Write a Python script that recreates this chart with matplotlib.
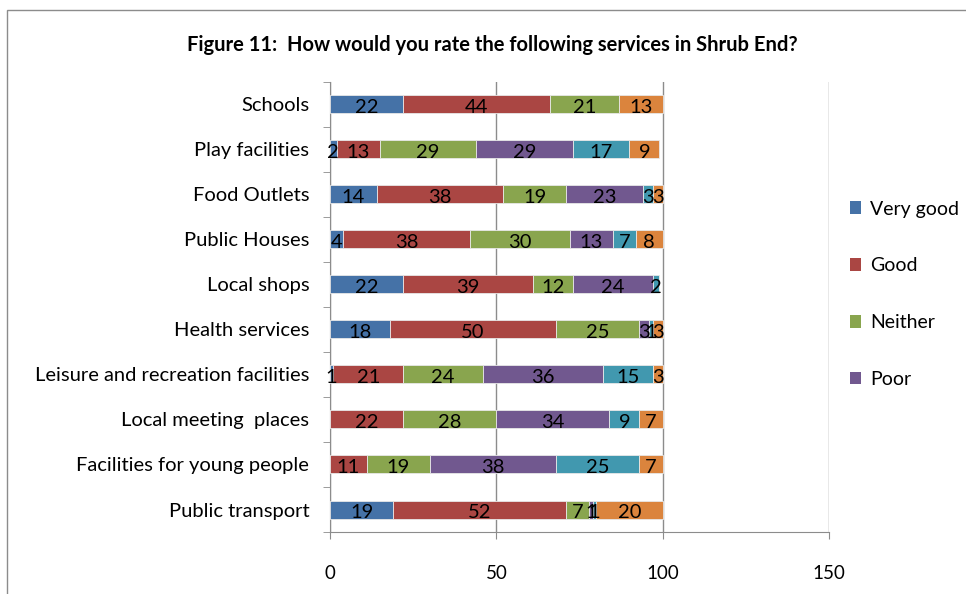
import numpy as np
import matplotlib.pyplot as plt
from matplotlib.patches import Rectangle, Patch

plt.rcParams['font.family'] = ['Lato', 'DejaVu Sans']

# Survey results (%), top to bottom
services = ['Schools', 'Play facilities', 'Food Outlets', 'Public Houses', 'Local shops',
            'Health services', 'Leisure and recreation facilities', 'Local meeting  places',
            'Facilities for young people', 'Public transport']
very_good = [22, 2, 14, 4, 22, 18, 1, 0, 0, 19]
good = [44, 13, 38, 38, 39, 50, 21, 22, 11, 52]
neither = [21, 29, 19, 30, 12, 25, 24, 28, 19, 7]
poor = [0, 29, 23, 13, 24, 3, 36, 34, 38, 1]
very_poor = [0, 17, 3, 7, 2, 1, 15, 9, 25, 1]
dont_know = [13, 9, 3, 8, 0, 3, 3, 7, 7, 20]

series = [('Very good', very_good, '#4572A7'),
          ('Good', good, '#AA4643'),
          ('Neither', neither, '#89A54E'),
          ('Poor', poor, '#71588F'),
          ('Very poor', very_poor, '#4198AF'),
          ("Don't know", dont_know, '#DB843D')]

fig = plt.figure(figsize=(9.66, 5.94), dpi=100)
ax = fig.add_axes([330 / 966, (594 - 532) / 594, 499 / 966, 450 / 594])

# outer chart border (runs off the right and bottom edge)
fig.patches.append(Rectangle((7 / 966, -0.1), 1.2, (584 / 594) + 0.1, transform=fig.transFigure,
                             fill=False, edgecolor='#8c8c8c', linewidth=1.0))

y = np.arange(len(services))
left = np.zeros(len(services))
for name, vals, col in series:
    vals = np.array(vals, dtype=float)
    ax.barh(y, vals, left=left, height=0.4, color=col, edgecolor='#e8e8e8', linewidth=0.6,
            label=name, zorder=3)
    for yi, (l, v) in enumerate(zip(left, vals)):
        if v > 0:
            ax.text(l + v / 2, yi + 0.07, f'{int(v)}', ha='center', va='center',
                    fontsize=14.5, color='black', zorder=4)
    left += vals

ax.set_ylim(len(services) - 0.5, -0.5)
ax.set_xlim(0, 150)
ax.set_xticks([0, 50, 100, 150])
ax.set_xticklabels(['0', '50', '100', '150'], fontsize=13.5)
ax.set_yticks(y)
ax.set_yticklabels(services, fontsize=14.5)
ax.set_yticks(np.arange(-0.5, len(services) + 0.5, 1), minor=True)
ax.tick_params(axis='y', which='major', length=0, pad=15)
ax.tick_params(axis='y', which='minor', length=5, color='#8c8c8c')
ax.tick_params(axis='x', length=5, color='#8c8c8c', pad=19)
ax.grid(axis='x', color='#8c8c8c', linewidth=1.0, zorder=0)
for s in ['top', 'right']:
    ax.spines[s].set_visible(False)
for s in ['left', 'bottom']:
    ax.spines[s].set_color('#8c8c8c')

handles = [Patch(facecolor=c) for _, _, c in series[:4]]
labels = [n for n, _, _ in series[:4]]
fig.legend(handles, labels, loc='upper left', bbox_to_anchor=(832 / 966, 1 - 183 / 594),
           frameon=False, fontsize=14, labelspacing=2.05, handlelength=0.6, handleheight=0.6,
           handletextpad=0.45)

fig.text(492 / 966, 1 - 45 / 594, 'Figure 11:  How would you rate the following services in Shrub End?',
         ha='center', va='center', fontsize=14.5, fontweight='bold')

fig.savefig('out.png', dpi=100)
